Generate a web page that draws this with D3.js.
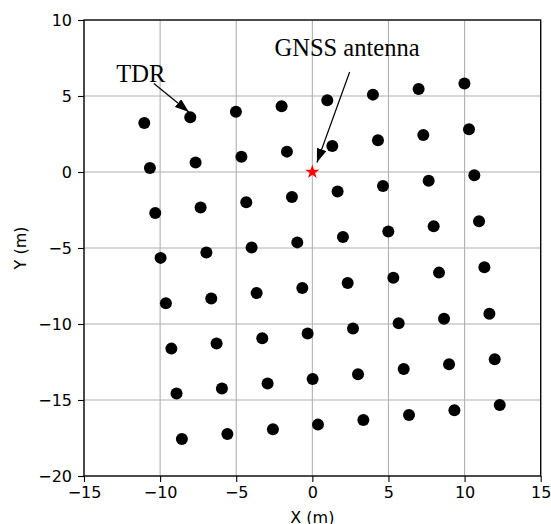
<!DOCTYPE html>
<html>
<head>
<meta charset="utf-8">
<script src="https://cdn.jsdelivr.net/npm/d3@7"></script>
<style>
  body { margin: 0; background: white; }
  svg { display: block; }
</style>
</head>
<body>
<div id="chart"></div>
<script>
// TDR sensor positions, row by row (8 per row)
const tdrX = [
  -11.04, -8.02, -5.02, -2.02, 0.98, 3.98, 6.98, 9.99,
  -10.67, -7.67, -4.66, -1.67, 1.31, 4.31, 7.29, 10.29,
  -10.32, -7.34, -4.34, -1.34, 1.66, 4.64, 7.64, 10.64,
  -9.97, -6.96, -3.99, -0.99, 2.01, 4.99, 7.97, 10.95,
  -9.62, -6.64, -3.66, -0.66, 2.32, 5.32, 8.32, 11.30,
  -9.26, -6.29, -3.29, -0.31, 2.67, 5.67, 8.65, 11.63,
  -8.92, -5.94, -2.94, 0.02, 3.00, 6.00, 8.98, 11.98,
  -8.57, -5.58, -2.59, 0.37, 3.35, 6.35, 9.33, 12.31
];
const tdrY = [
  3.22, 3.60, 3.97, 4.32, 4.72, 5.09, 5.46, 5.82,
  0.26, 0.62, 1.01, 1.34, 1.71, 2.09, 2.43, 2.81,
  -2.70, -2.34, -1.99, -1.64, -1.29, -0.92, -0.57, -0.22,
  -5.65, -5.30, -4.97, -4.63, -4.28, -3.92, -3.57, -3.24,
  -8.64, -8.33, -7.96, -7.63, -7.30, -6.95, -6.62, -6.27,
  -11.62, -11.29, -10.94, -10.63, -10.30, -9.95, -9.65, -9.32,
  -14.58, -14.25, -13.92, -13.62, -13.31, -12.96, -12.65, -12.32,
  -17.57, -17.24, -16.93, -16.62, -16.32, -15.99, -15.68, -15.33
];
const antenna = [0, 0];

const xTicks = [-15, -10, -5, 0, 5, 10, 15];
const yTicks = [-20, -15, -10, -5, 0, 5, 10];

// annotations: text anchor and arrow start/end in data units
const notes = [
  { label: "TDR", tx: -12.88, ty: 5.92, x0: -10.41, y0: 5.82, x1: -8.11, y1: 3.95 },
  { label: "GNSS antenna", tx: -2.48, ty: 7.63, x0: 2.45, y0: 6.58, x1: 0.30, y1: 0.62 }
];

const width = 551;
const height = 524;
const margin = { top: 20, right: 10, bottom: 48, left: 84 };

const svg = d3.select("#chart")
  .append("svg")
  .attr("width", width)
  .attr("height", height);

const x = d3.scaleLinear()
  .domain([-15, 15])
  .range([margin.left, width - margin.right - 0.3]);

const y = d3.scaleLinear()
  .domain([-20, 10])
  .range([height - margin.bottom, margin.top]);

// grid
svg.append("g")
  .selectAll("line")
  .data(xTicks)
  .join("line")
  .attr("x1", d => x(d)).attr("x2", d => x(d))
  .attr("y1", y(-20)).attr("y2", y(10))
  .attr("stroke", "#b0b0b0")
  .attr("stroke-width", 1.1);

svg.append("g")
  .selectAll("line")
  .data(yTicks)
  .join("line")
  .attr("y1", d => y(d)).attr("y2", d => y(d))
  .attr("x1", x(-15)).attr("x2", x(15))
  .attr("stroke", "#b0b0b0")
  .attr("stroke-width", 1.1);

// axes
const fmt = d => d < 0 ? "\u2212" + Math.abs(d) : String(d);

const xAxis = svg.append("g")
  .attr("transform", `translate(0,${y(-20)})`)
  .call(d3.axisBottom(x).tickValues(xTicks).tickFormat(fmt).tickSize(6).tickPadding(5));

const yAxis = svg.append("g")
  .attr("transform", `translate(${x(-15)},0)`)
  .call(d3.axisLeft(y).tickValues(yTicks).tickFormat(fmt).tickSize(6).tickPadding(6));

[xAxis, yAxis].forEach(g => {
  g.select(".domain").remove();
  g.selectAll(".tick line").attr("stroke", "black").attr("stroke-width", 1.1);
  g.selectAll("text")
    .attr("fill", "black")
    .style("font-family", "DejaVu Sans")
    .style("font-size", "16px");
});

// frame
svg.append("rect")
  .attr("x", x(-15))
  .attr("y", y(10))
  .attr("width", x(15) - x(-15))
  .attr("height", y(-20) - y(10))
  .attr("fill", "none")
  .attr("stroke", "black")
  .attr("stroke-width", 1.3);

// axis titles
svg.append("text")
  .attr("x", (x(-15) + x(15)) / 2)
  .attr("y", 523)
  .attr("text-anchor", "middle")
  .style("font-family", "DejaVu Sans")
  .style("font-size", "16px")
  .text("X (m)");

svg.append("text")
  .attr("transform", `translate(26,${(y(-20) + y(10)) / 2}) rotate(-90)`)
  .attr("text-anchor", "middle")
  .style("font-family", "DejaVu Sans")
  .style("font-size", "16px")
  .text("Y (m)");

// TDR points
const pts = tdrX.map((d, i) => ({ x: d, y: tdrY[i] }));

svg.append("g")
  .selectAll("circle")
  .data(pts)
  .join("circle")
  .attr("cx", d => x(d.x))
  .attr("cy", d => y(d.y))
  .attr("r", 6)
  .attr("fill", "black");

// antenna star
svg.append("path")
  .attr("d", d3.symbol().type(d3.symbolStar).size(62)())
  .attr("transform", `translate(${x(antenna[0])},${y(antenna[1])})`)
  .attr("fill", "red");

// annotations
svg.append("defs").append("marker")
  .attr("id", "head")
  .attr("viewBox", "0 0 14 10")
  .attr("refX", 14)
  .attr("refY", 5)
  .attr("markerWidth", 14)
  .attr("markerHeight", 10)
  .attr("markerUnits", "userSpaceOnUse")
  .attr("orient", "auto")
  .append("path")
  .attr("d", "M0,0 L14,5 L0,10 Z")
  .attr("fill", "black");

svg.append("g")
  .selectAll("line")
  .data(notes)
  .join("line")
  .attr("x1", d => x(d.x0)).attr("y1", d => y(d.y0))
  .attr("x2", d => x(d.x1)).attr("y2", d => y(d.y1))
  .attr("stroke", "black")
  .attr("stroke-width", 1.2)
  .attr("marker-end", "url(#head)");

svg.append("g")
  .selectAll("text")
  .data(notes)
  .join("text")
  .attr("x", d => x(d.tx))
  .attr("y", d => y(d.ty))
  .style("font-family", "Liberation Serif")
  .style("font-size", "24.5px")
  .text(d => d.label);
</script>
</body>
</html>
